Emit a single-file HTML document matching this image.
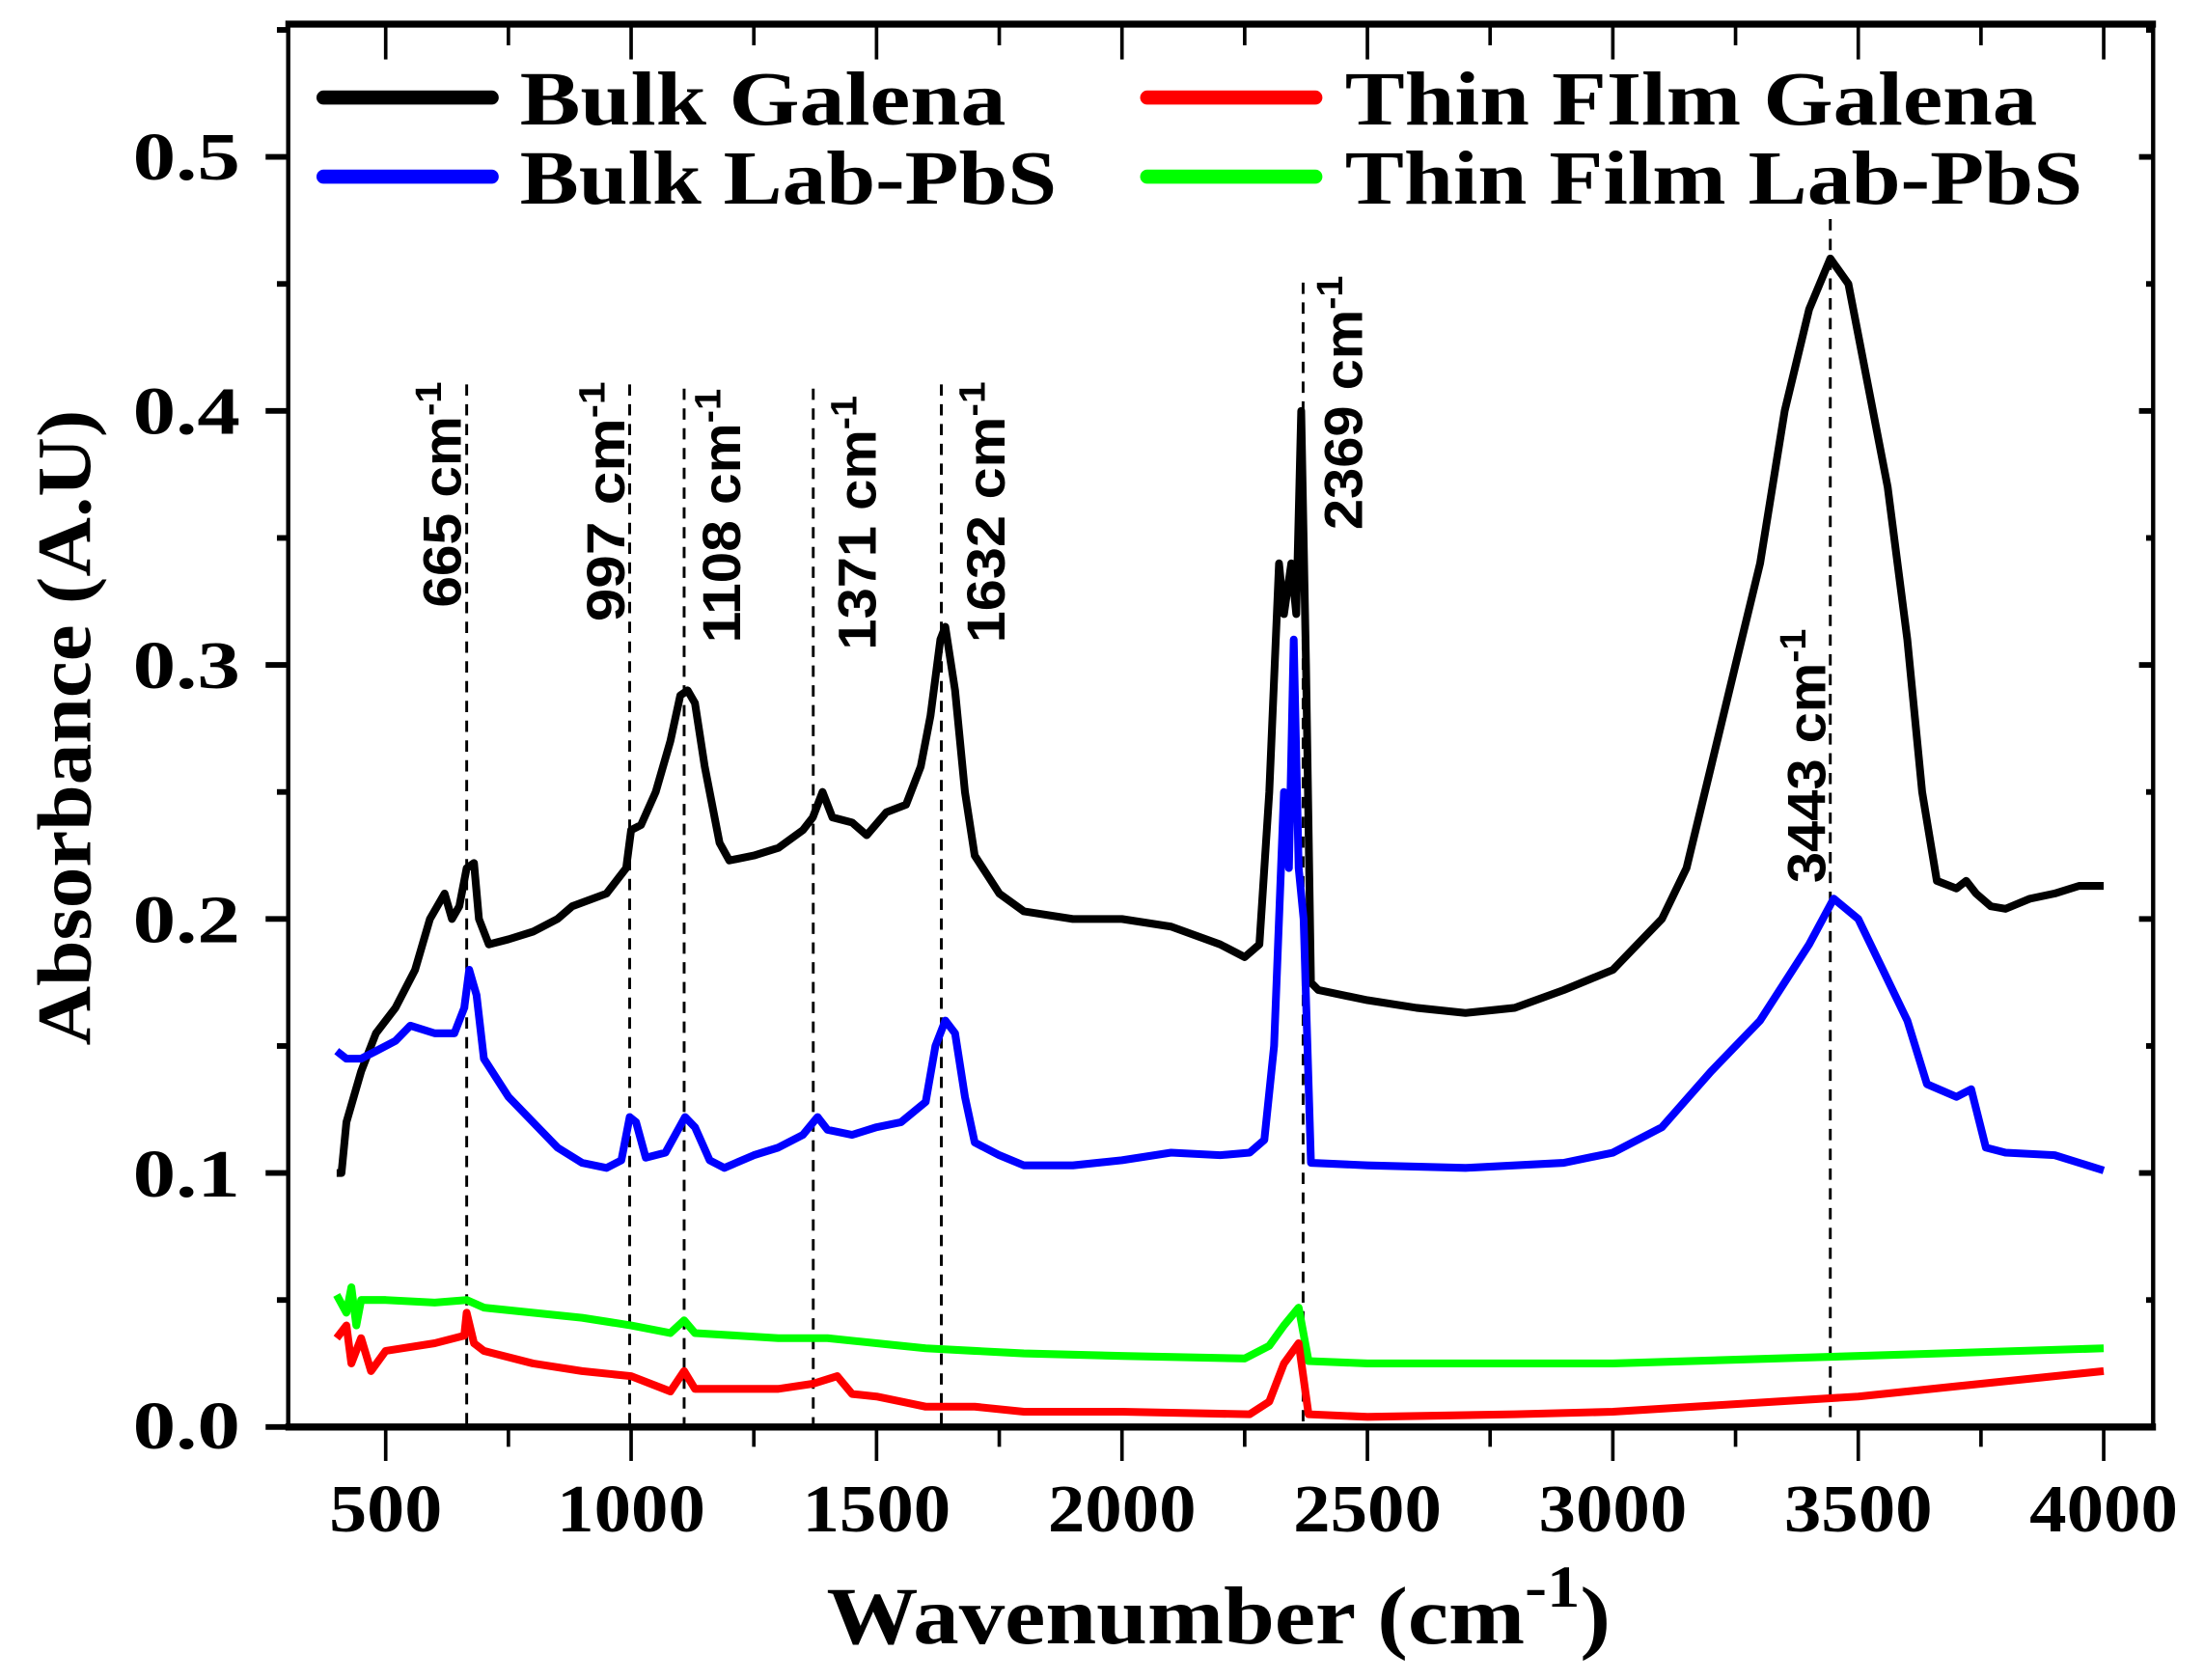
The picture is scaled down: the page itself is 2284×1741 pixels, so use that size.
<!DOCTYPE html>
<html><head><meta charset="utf-8"><style>html,body{margin:0;padding:0;background:#fff}svg{display:block}</style></head>
<body>
<svg id="s" width="2284" height="1741" viewBox="0 0 1560 1189" xmlns="http://www.w3.org/2000/svg">
<rect width="1560" height="1189" fill="#fff"/>
<g id="dash" stroke="#000" stroke-width="2" stroke-dasharray="8,6" fill="none"></g>
<g id="series" fill="none" stroke-width="5.5" stroke-linejoin="round"></g>
<g id="axes" stroke="#000" fill="none"></g>
<g font-family="'Liberation Serif',serif" font-weight="bold" font-size="54" fill="#000" lengthAdjust="spacingAndGlyphs">
<text x="368" y="88" textLength="344" lengthAdjust="spacingAndGlyphs">Bulk Galena</text>
<text x="368" y="144" textLength="380" lengthAdjust="spacingAndGlyphs">Bulk Lab-PbS</text>
<text x="952" y="88" textLength="490" lengthAdjust="spacingAndGlyphs">Thin FIlm Galena</text>
<text x="952" y="144" textLength="522" lengthAdjust="spacingAndGlyphs">Thin Film Lab-PbS</text>
</g>
<g stroke-width="10" stroke-linecap="round">
<line x1="229" y1="69" x2="348" y2="69" stroke="#000"/>
<line x1="229" y1="125" x2="348" y2="125" stroke="#0000ff"/>
<line x1="812" y1="69" x2="931" y2="69" stroke="#ff0000"/>
<line x1="812" y1="125" x2="931" y2="125" stroke="#00ff00"/>
</g>
<g font-family="'Liberation Serif',serif" font-weight="bold" font-size="48" fill="#000" text-anchor="end">
<text x="170" y="127" textLength="76" lengthAdjust="spacingAndGlyphs">0.5</text><text x="170" y="307" textLength="76" lengthAdjust="spacingAndGlyphs">0.4</text><text x="170" y="487" textLength="76" lengthAdjust="spacingAndGlyphs">0.3</text>
<text x="170" y="667" textLength="76" lengthAdjust="spacingAndGlyphs">0.2</text><text x="170" y="847" textLength="76" lengthAdjust="spacingAndGlyphs">0.1</text><text x="170" y="1025" textLength="76" lengthAdjust="spacingAndGlyphs">0.0</text>
</g>
<g id="xl" font-family="'Liberation Serif',serif" font-weight="bold" font-size="48" fill="#000" text-anchor="middle"></g>
<text x="585" y="1163" textLength="555" lengthAdjust="spacingAndGlyphs" font-family="'Liberation Serif',serif" font-weight="bold" font-size="58">Wavenumber (cm<tspan dy="-26" font-size="42">-1</tspan><tspan dy="26">)</tspan></text>
<text transform="translate(64,740) rotate(-90)" textLength="450" lengthAdjust="spacingAndGlyphs" font-family="'Liberation Serif',serif" font-weight="bold" font-size="54">Absorbance (A.U)</text>
<g id="pl" font-family="'Liberation Sans',sans-serif" font-weight="bold" font-size="38" fill="#000"></g>
</svg>
<script>
const X=w=>273+(w-500)*0.34743, Y=a=>1010-a*1798;
const NS="http://www.w3.org/2000/svg";
function el(p,t,a,txt){const e=document.createElementNS(NS,t);for(const k in a)e.setAttribute(k,a[k]);if(txt!=null)e.textContent=txt;document.getElementById(p).appendChild(e);return e;}
function parse(s){return s.trim().split(/\s*,\s*/).map(p=>p.split(':').map(Number));}
const S={
"#000":"400:0.10,410:0.10,420:0.12,450:0.14,480:0.155,520:0.165,560:0.18,590:0.20,620:0.21,635:0.20,650:0.205,665:0.22,680:0.222,690:0.20,710:0.19,750:0.192,800:0.195,850:0.20,880:0.205,950:0.21,990:0.22,1000:0.235,1020:0.237,1050:0.25,1080:0.27,1100:0.288,1115:0.29,1130:0.285,1150:0.26,1180:0.23,1200:0.223,1250:0.225,1300:0.228,1350:0.235,1370:0.24,1390:0.25,1410:0.24,1450:0.238,1480:0.233,1520:0.242,1560:0.245,1590:0.26,1610:0.28,1630:0.31,1640:0.315,1660:0.29,1680:0.25,1700:0.225,1750:0.21,1800:0.203,1900:0.20,2000:0.20,2100:0.197,2200:0.19,2250:0.185,2280:0.19,2300:0.25,2320:0.34,2330:0.32,2345:0.34,2355:0.32,2365:0.40,2375:0.30,2385:0.175,2400:0.172,2500:0.168,2600:0.165,2700:0.163,2800:0.165,2900:0.172,3000:0.18,3100:0.2,3150:0.22,3200:0.26,3250:0.30,3300:0.34,3350:0.4,3400:0.44,3443:0.46,3480:0.45,3520:0.41,3560:0.37,3600:0.31,3630:0.25,3660:0.215,3700:0.212,3720:0.215,3740:0.21,3770:0.205,3800:0.204,3850:0.208,3900:0.21,3950:0.213,4000:0.213",
"#0000ff":"400:0.148,420:0.145,450:0.145,480:0.148,520:0.152,550:0.158,600:0.155,640:0.155,660:0.165,670:0.18,685:0.17,700:0.145,750:0.13,800:0.12,850:0.11,900:0.104,950:0.102,980:0.105,997:0.122,1010:0.12,1030:0.106,1070:0.108,1110:0.122,1130:0.118,1160:0.105,1190:0.102,1250:0.107,1300:0.11,1350:0.115,1380:0.122,1400:0.117,1450:0.115,1500:0.118,1550:0.12,1600:0.128,1620:0.15,1640:0.16,1660:0.155,1680:0.13,1700:0.112,1750:0.107,1800:0.103,1900:0.103,2000:0.105,2100:0.108,2200:0.107,2260:0.108,2290:0.113,2310:0.15,2330:0.25,2340:0.22,2350:0.31,2360:0.22,2370:0.2,2385:0.104,2500:0.103,2700:0.102,2900:0.104,3000:0.108,3100:0.118,3200:0.14,3300:0.16,3400:0.19,3450:0.208,3500:0.2,3550:0.18,3600:0.16,3640:0.135,3700:0.13,3730:0.133,3760:0.11,3800:0.108,3900:0.107,4000:0.101",
"#00ff00":"400:0.052,420:0.045,430:0.055,440:0.04,450:0.05,500:0.05,600:0.049,665:0.05,700:0.047,800:0.045,900:0.043,1000:0.04,1080:0.037,1108:0.042,1130:0.037,1300:0.035,1400:0.035,1500:0.033,1600:0.031,1700:0.03,1800:0.029,2000:0.028,2250:0.027,2300:0.032,2330:0.04,2360:0.047,2380:0.026,2500:0.025,3000:0.025,3500:0.028,4000:0.031",
"#ff0000":"400:0.035,420:0.04,430:0.025,450:0.035,470:0.022,500:0.03,600:0.033,660:0.036,665:0.045,680:0.033,700:0.03,800:0.025,900:0.022,1000:0.02,1080:0.014,1108:0.022,1130:0.015,1300:0.015,1370:0.017,1420:0.02,1450:0.013,1500:0.012,1550:0.01,1600:0.008,1700:0.008,1800:0.006,2000:0.006,2260:0.005,2300:0.01,2330:0.025,2360:0.033,2380:0.005,2500:0.004,2800:0.005,3000:0.006,3500:0.012,3800:0.018,4000:0.022"};
for(const c in S){el("series","path",{d:"M"+parse(S[c]).map(([w,a])=>X(w).toFixed(1)+","+Y(a).toFixed(1)).join("L"),stroke:c});}
const D=[[665,272,312,270,430],[997,272,428,270,440],[1108,275,510,275,455],[1371,275,606,280,460],[1632,272,697,270,455],[2369,200,950,195,375],[3443,155,1278,445,625]];
for(const [w,top,lx,t0,t1] of D){el("dash","line",{x1:X(w),y1:top,x2:X(w),y2:1010});
 const t=el("pl","text",{transform:`translate(${lx+14},${t1}) rotate(-90)`,textLength:t1-t0,lengthAdjust:"spacingAndGlyphs"});
 t.appendChild(document.createTextNode(w+" cm"));const s=document.createElementNS(NS,"tspan");s.setAttribute("dy","-14");s.setAttribute("font-size","26");s.textContent="-1";t.appendChild(s);}
el("axes","rect",{x:204,y:17,width:1320,height:993,"stroke-width":3});
el("axes","line",{x1:202,y1:1010,x2:1526,y2:1010,"stroke-width":5});
el("axes","line",{x1:202,y1:17,x2:1526,y2:17,"stroke-width":5});
for(let w=500;w<=4000;w+=250){const maj=w%500==0,x=X(w);
 el("axes","line",{x1:x,y1:1012,x2:x,y2:maj?1034:1024,"stroke-width":2.5});
 el("axes","line",{x1:x,y1:17,x2:x,y2:maj?42:32,"stroke-width":2.5});
 if(maj){const L=w<1000?80:105;el("xl","text",{x:x,y:1084,textLength:L,lengthAdjust:"spacingAndGlyphs"},String(w));}}
for(let i=0;i<=11;i++){const a=i*0.05,y=Y(a),maj=i%2==0;if(y<17)continue;
 el("axes","line",{x1:204,y1:y,x2:maj?188:196,y2:y,"stroke-width":4});
 el("axes","line",{x1:1524,y1:y,x2:maj?1514:1519,y2:y,"stroke-width":4});}
</script>
</body></html>
